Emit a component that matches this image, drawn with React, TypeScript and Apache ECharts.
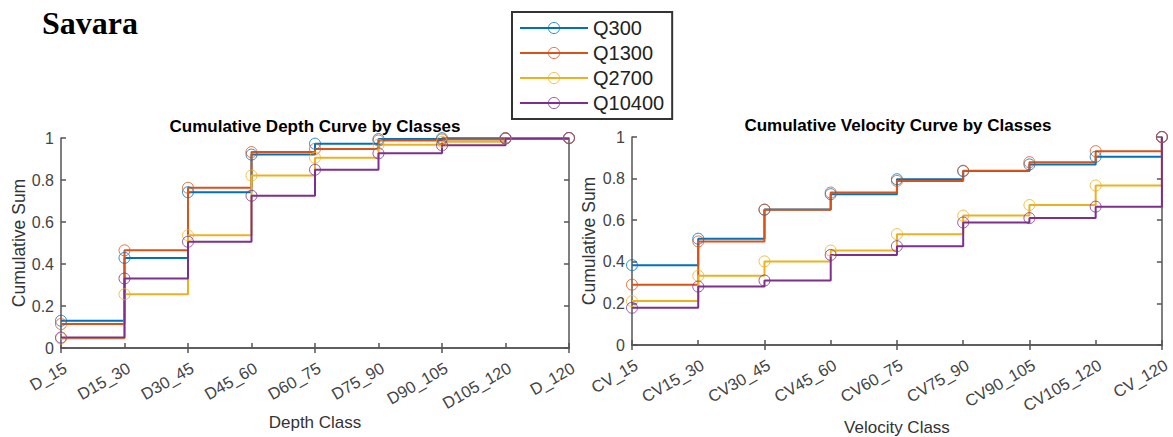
import React, { useEffect, useRef } from "react";
import * as echarts from "echarts";

const depthCats = ["D_15", "D15_30", "D30_45", "D45_60", "D60_75", "D75_90", "D90_105", "D105_120", "D_120"];
const velocityCats = ["CV_15", "CV15_30", "CV30_45", "CV45_60", "CV60_75", "CV75_90", "CV90_105", "CV105_120", "CV_120"];
const seriesNames = ["Q300", "Q1300", "Q2700", "Q10400"];
const colors = ["#0072BD", "#D95319", "#EDB120", "#7E2F8E"];

const depthQ300 = [0.13, 0.429, 0.742, 0.921, 0.973, 0.995, 0.999, 1.0, 1.0];
const depthQ1300 = [0.114, 0.465, 0.763, 0.933, 0.948, 0.988, 0.993, 0.999, 1.0];
const depthQ2700 = [0.045, 0.256, 0.537, 0.821, 0.906, 0.968, 0.982, 0.998, 1.0];
const depthQ10400 = [0.05, 0.331, 0.506, 0.725, 0.849, 0.927, 0.965, 0.997, 1.0];

const velQ300 = [0.384, 0.511, 0.651, 0.725, 0.797, 0.836, 0.868, 0.905, 1.0];
const velQ1300 = [0.29, 0.498, 0.65, 0.733, 0.789, 0.838, 0.879, 0.932, 1.0];
const velQ2700 = [0.211, 0.333, 0.402, 0.454, 0.533, 0.622, 0.673, 0.767, 1.0];
const velQ10400 = [0.179, 0.281, 0.31, 0.433, 0.475, 0.589, 0.61, 0.665, 1.0];

const yTicks = { min: 0, max: 1, interval: 0.2 };

const FONT = '"Liberation Sans", Arial, Helvetica, sans-serif';
const AXIS_COLOR = "#555";
const LABEL_COLOR = "#444";

export default function App() {
  const ref = useRef<HTMLDivElement>(null);

  useEffect(() => {
    if (!ref.current) return;
    const chart = echarts.init(ref.current, undefined, { renderer: "svg" });

    const depthData = [depthQ300, depthQ1300, depthQ2700, depthQ10400];
    const velData = [velQ300, velQ1300, velQ2700, velQ10400];

    const grids = [
      { left: 61, top: 138, width: 508, height: 210 },
      { left: 632, top: 137, width: 533, height: 210 },
    ];

    const xAxisMain = (gi: number, cats: string[], name: string, nameGap: number) => ({
      type: "category",
      gridIndex: gi,
      data: cats,
      boundaryGap: false,
      position: "bottom",
      name,
      nameLocation: "middle",
      nameGap,
      nameTextStyle: { fontFamily: FONT, fontSize: 17, color: "#333" },
      axisLine: { show: true, lineStyle: { color: AXIS_COLOR, width: 1.5 } },
      axisTick: { show: true, inside: true, length: 5, lineStyle: { color: AXIS_COLOR, width: 1.5 } },
      axisLabel: {
        rotate: 30,
        interval: 0,
        margin: 11,
        verticalAlign: "top",
        fontFamily: FONT,
        fontSize: 16.5,
        color: LABEL_COLOR,
      },
      splitLine: { show: false },
    });

    const xAxisTop = (gi: number, cats: string[]) => ({
      type: "category",
      gridIndex: gi,
      data: cats,
      boundaryGap: false,
      position: "top",
      axisLine: { show: true, lineStyle: { color: AXIS_COLOR, width: 1.5 } },
      axisTick: { show: true, inside: true, length: 5, lineStyle: { color: AXIS_COLOR, width: 1.5 } },
      axisLabel: { show: false },
      splitLine: { show: false },
    });

    const yAxisMain = (gi: number, nameGap: number) => ({
      type: "value",
      gridIndex: gi,
      ...yTicks,
      position: "left",
      name: "Cumulative Sum",
      nameLocation: "middle",
      nameGap,
      nameTextStyle: { fontFamily: FONT, fontSize: 17.5, color: "#333" },
      axisLine: { show: true, lineStyle: { color: AXIS_COLOR, width: 1.5 } },
      axisTick: { show: true, inside: true, length: 5, lineStyle: { color: AXIS_COLOR, width: 1.5 } },
      axisLabel: { margin: 7, fontFamily: FONT, fontSize: 16, color: LABEL_COLOR },
      splitLine: { show: false },
    });

    const yAxisRight = (gi: number) => ({
      type: "value",
      gridIndex: gi,
      ...yTicks,
      position: "right",
      axisLine: { show: true, lineStyle: { color: AXIS_COLOR, width: 1.5 } },
      axisTick: { show: true, inside: true, length: 5, lineStyle: { color: AXIS_COLOR, width: 1.5 } },
      axisLabel: { show: false },
      splitLine: { show: false },
    });

    const makeSeries = (data: number[][], xi: number, yi: number) =>
      seriesNames.map((name, i) => ({
        name,
        type: "line",
        xAxisIndex: xi,
        yAxisIndex: yi,
        data: data[i],
        step: "end",
        symbol: "circle",
        symbolSize: 11,
        showAllSymbol: true,
        itemStyle: { color: "rgba(255,255,255,0)", borderColor: colors[i], borderWidth: 1, opacity: 0.8 },
        lineStyle: { color: colors[i], width: 2 },
        emphasis: { disabled: true },
      }));

    chart.setOption({
      animation: false,
      backgroundColor: "#fff",
      grid: grids,
      xAxis: [
        xAxisMain(0, depthCats, "Depth Class", 66),
        xAxisTop(0, depthCats),
        xAxisMain(1, velocityCats, "Velocity Class", 74),
        xAxisTop(1, velocityCats),
      ],
      yAxis: [yAxisMain(0, 32), yAxisRight(0), yAxisMain(1, 34), yAxisRight(1)],
      legend: {
        data: seriesNames.map((n, i) => ({
          name: n,
          itemStyle: { color: "rgba(255,255,255,0)", borderColor: colors[i], borderWidth: 1 },
          lineStyle: { color: colors[i], width: 2 },
        })),
        orient: "vertical",
        left: 512,
        top: 12,
        padding: [6, 8, 6, 7],
        itemWidth: 68,
        itemHeight: 14,
        itemGap: 5,
        borderColor: "#333",
        borderWidth: 2,
        backgroundColor: "#fff",
        textStyle: { fontFamily: FONT, fontSize: 20, lineHeight: 20, color: "#222" },
        selectedMode: false,
      },
      graphic: [
        {
          type: "text",
          left: 42,
          top: 7,
          style: {
            text: "Savara",
            fontFamily: '"Liberation Serif", "Times New Roman", serif',
            fontWeight: "bold",
            fontSize: 32,
            fill: "#000",
          },
        },
        {
          type: "text",
          x: 315,
          y: 126,
          style: {
            text: "Cumulative Depth Curve by Classes",
            fontFamily: FONT,
            fontWeight: "bold",
            fontSize: 17,
            fill: "#000",
            align: "center",
            verticalAlign: "middle",
          },
        },
        {
          type: "text",
          x: 898,
          y: 125,
          style: {
            text: "Cumulative Velocity Curve by Classes",
            fontFamily: FONT,
            fontWeight: "bold",
            fontSize: 17,
            fill: "#000",
            align: "center",
            verticalAlign: "middle",
          },
        },
      ],
      series: [...makeSeries(depthData, 0, 0), ...makeSeries(velData, 2, 2)],
    });

    return () => chart.dispose();
  }, []);

  return (
    <div
      ref={ref}
      style={{ position: "fixed", left: 0, top: 0, width: 1173, height: 437, background: "#fff" }}
    />
  );
}
